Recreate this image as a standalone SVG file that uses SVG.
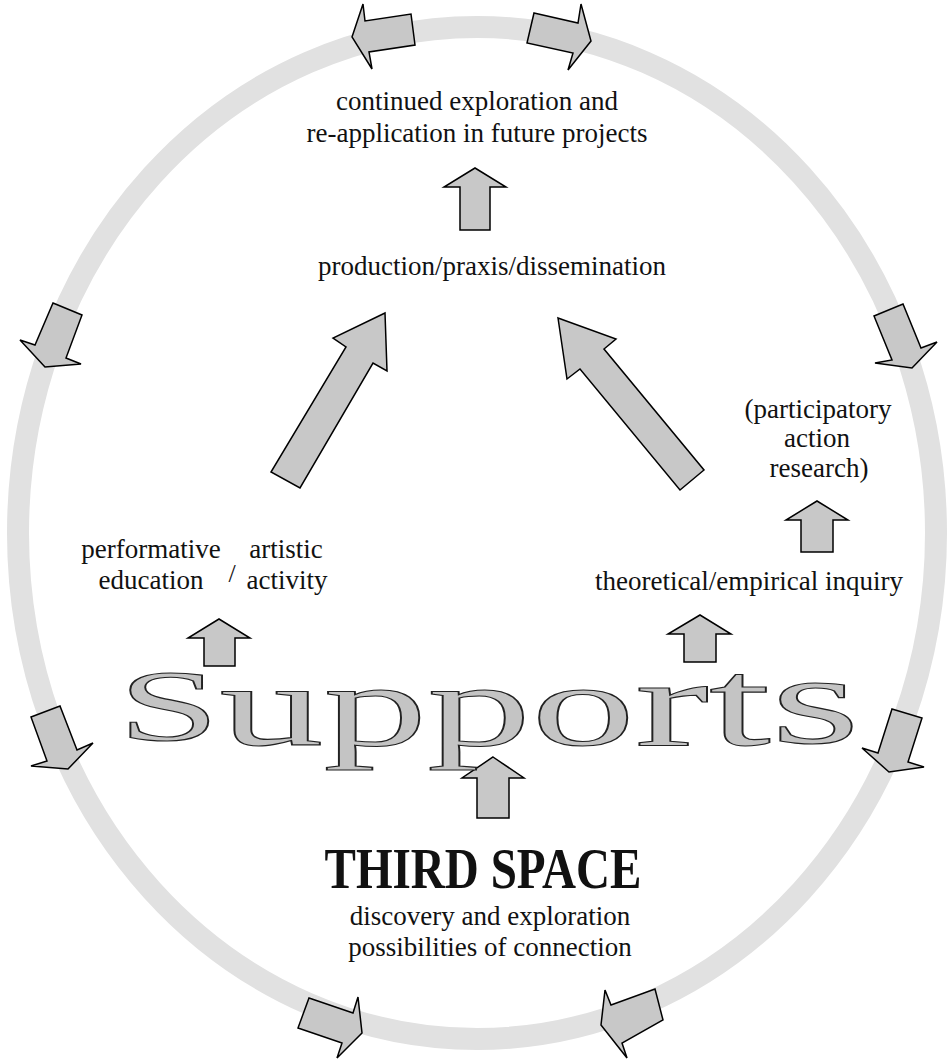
<svg xmlns="http://www.w3.org/2000/svg" width="947" height="1061" viewBox="0 0 947 1061">
<style>
.t{font-family:"Liberation Serif","Times New Roman",serif;font-size:27px;fill:#111;text-anchor:middle}
.arr{fill:#c8c8c8;stroke:#000;stroke-width:1.5;stroke-linejoin:miter}
.ring{fill:none;stroke:#e1e1e1;stroke-width:22}
.sup{font-family:"Liberation Serif","Times New Roman",serif;font-size:116px;fill:#c4c4c4;stroke:#222;stroke-width:1.1}
</style>
<rect width="947" height="1061" fill="#fff"/>
<g id="cycle">
<ellipse class="ring" cx="477" cy="533" rx="459" ry="506"/>
</g>
<g id="connectors">
<polygon class="arr" points="352,37 363,4 365,21 411,14 415,45 369,52 372,69"/>
<polygon class="arr" points="534,13 578,23 581,4 591,41 568,70 573,53 527,43"/>
<polygon class="arr" points="53,303 82,315 66,358 81,364 45,367 20,340 35,345"/>
<polygon class="arr" points="874,316 903,304 921,348 937,342 912,368 875,363 892,360"/>
<polygon class="arr" points="31,717 60,706 77,750 93,743 68,769 31,766 47,761"/>
<polygon class="arr" points="892,709 922,718 908,762 924,767 889,772 862,748 878,753"/>
<polygon class="arr" points="309,998 353,1013 358,997 362,1033 337,1058 342,1043 298,1028"/>
<polygon class="arr" points="601,1025 627,1058 622,1043 663,1020 655,989 611,1005 605,990"/>
<polygon class="arr" points="385,313 387,371 373,363 300,488 271,472 346,347 333,338"/>
<polygon class="arr" points="558,318 616,339 604,349 704,470 680,490 580,369 567,379"/>
<polygon class="arr" points="475,168 506,187 490,187 490,230 460,230 460,187 444,187"/>
<polygon class="arr" points="219,619 250,638 235,638 235,666 204,666 204,638 188,638"/>
<polygon class="arr" points="700,615 731,634 716,634 716,662 684,662 684,634 668,634"/>
<polygon class="arr" points="817,501 848,520 833,520 833,552 801,552 801,520 786,520"/>
<polygon class="arr" points="493,757 524,778 509,778 509,818 477,818 477,778 462,778"/>
</g>
<g id="n-future">
<text class="t" x="477" y="110">continued exploration and</text>
<text class="t" x="477" y="142">re-application in future projects</text>
</g>
<g id="n-production">
<text class="t" x="492" y="275">production/praxis/dissemination</text>
</g>
<g id="n-performative">
<text class="t" x="151" y="558">performative</text>
<text class="t" x="151" y="589">education</text>
</g>
<g id="n-slash">
<text class="t" x="232" y="582" style="font-size:26px">/</text>
</g>
<g id="n-artistic">
<text class="t" x="286" y="558">artistic</text>
<text class="t" x="287" y="589">activity</text>
</g>
<g id="n-par">
<text class="t" x="818" y="418">(participatory</text>
<text class="t" x="817" y="447">action</text>
<text class="t" x="819" y="477">research)</text>
</g>
<g id="n-theory">
<text class="t" x="749" y="590">theoretical/empirical inquiry</text>
</g>
<g id="n-supports">
<text class="sup" x="118" y="745" textLength="742" lengthAdjust="spacingAndGlyphs"><tspan y="741" font-size="102">S</tspan><tspan y="745">uppo</tspan><tspan y="745" font-size="124">rt</tspan><tspan y="743" font-size="128">s</tspan></text>
</g>
<g id="n-third">
<text x="483" y="888" textLength="317" lengthAdjust="spacingAndGlyphs" style="font-family:'Liberation Serif','Times New Roman',serif;font-size:56px;font-weight:bold;fill:#111;text-anchor:middle">THIRD SPACE</text>
<text class="t" x="490" y="925">discovery and exploration</text>
<text class="t" x="490" y="956">possibilities of connection</text>
</g>
</svg>
